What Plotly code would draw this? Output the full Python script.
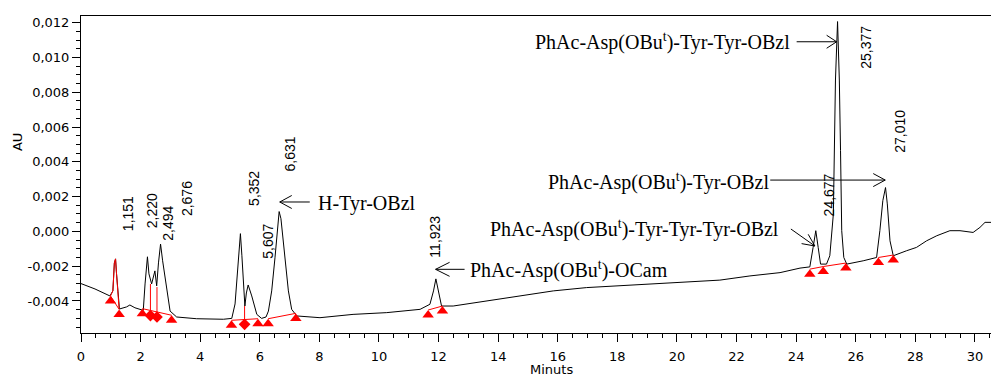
import plotly.graph_objects as go

# ---------------- data ----------------
# chromatogram trace: retention time (min) and absorbance (AU)
time_min = [0.00, 0.47, 0.97, 1.07, 1.12, 1.16, 1.19, 1.24, 1.29, 1.53,
            1.64, 1.81, 2.09, 2.15, 2.23, 2.28, 2.37, 2.48, 2.54, 2.60,
            2.67, 2.74, 2.85, 2.99, 3.21, 3.88, 4.78, 5.06, 5.17, 5.27,
            5.35, 5.40, 5.45, 5.50, 5.55, 5.61, 5.73, 5.90, 6.06, 6.21,
            6.29, 6.40, 6.51, 6.59, 6.65, 6.71, 6.85, 6.96, 7.07, 7.24,
            8.02, 9.13, 10.26, 11.38, 11.71, 11.83, 11.91, 11.99, 12.10, 12.49,
            13.61, 14.73, 15.85, 16.97, 18.09, 19.21, 20.33, 21.44, 22.45, 23.46,
            24.13, 24.46, 24.57, 24.66, 24.74, 24.82, 25.02, 25.13, 25.25, 25.29,
            25.32, 25.39, 25.45, 25.49, 25.53, 25.60, 25.70, 26.25, 26.70, 26.81,
            26.91, 27.00, 27.06, 27.15, 27.26, 27.71, 28.04, 28.38, 28.72, 29.16,
            29.50, 29.94, 30.17, 30.34, 30.54]
absorbance = [-0.00300, -0.00331, -0.00371, -0.00342, -0.00181, -0.00158, -0.00238, -0.00377, -0.00446, -0.00434,
              -0.00423, -0.00439, -0.00454, -0.00302, -0.00146, -0.00244, -0.00302, -0.00227, -0.00313, -0.00181,
              -0.00073, -0.00169, -0.00302, -0.00458, -0.00492, -0.00502, -0.00505, -0.00500, -0.00417, -0.00169,
              -0.00013, -0.00140, -0.00284, -0.00429, -0.00354, -0.00308, -0.00371, -0.00477, -0.00500, -0.00492,
              -0.00458, -0.00342, -0.00152, 0.00033, 0.00114, 0.00073, -0.00150, -0.00342, -0.00448, -0.00486,
              -0.00496, -0.00477, -0.00467, -0.00448, -0.00419, -0.00342, -0.00273, -0.00342, -0.00429, -0.00429,
              -0.00400, -0.00371, -0.00342, -0.00323, -0.00313, -0.00300, -0.00289, -0.00280, -0.00256, -0.00237,
              -0.00211, -0.00204, -0.00092, 0.00004, -0.00092, -0.00188, -0.00188, -0.00140, 0.00100, 0.00523,
              0.00870, 0.01206, 0.00870, 0.00466, 0.00004, -0.00150, -0.00188, -0.00169, -0.00150, 0.00004,
              0.00177, 0.00252, 0.00158, -0.00054, -0.00140, -0.00111, -0.00092, -0.00054, -0.00025, 0.00004,
              0.00004, -0.00006, 0.00023, 0.00052, 0.00052]

# integration events (baseline start/end points)
event_time = [0.99, 1.28, 2.06, 2.33, 2.55, 3.04, 5.05, 5.49, 5.94,
              6.28, 7.21, 11.65, 12.13, 24.46, 24.91, 25.67, 26.76, 27.26]
event_base = [-0.00371, -0.00448, -0.00444, -0.00455, -0.00463, -0.00482, -0.00511, -0.00505, -0.00502,
              -0.00502, -0.00471, -0.00452, -0.00429, -0.00217, -0.00202, -0.00182, -0.00150, -0.00136]
event_kind = ["t", "t", "t", "d", "d", "t", "t", "d", "t",
              "t", "t", "t", "t", "t", "t", "t", "t", "t"]
event_group = [0, 0, 1, 1, 1, 1, 2, 2, 2, 3, 3, 4, 4, 5, 5, 5, 6, 6]
# drop-line tops at the valley events (diamonds)
drop_top = {3: -0.00302, 4: -0.00320, 7: -0.00429}

# peak retention-time labels
peak_labels = ["1,151", "2,220", "2,494", "2,676", "5,352", "5,607",
               "6,631", "11,923", "24,677", "25,377", "27,010"]

# compound labels
compound_labels = ["H-Tyr-OBzl",
                   "PhAc-Asp(OBu<sup>t</sup>)-OCam",
                   "PhAc-Asp(OBu<sup>t</sup>)-Tyr-Tyr-Tyr-OBzl",
                   "PhAc-Asp(OBu<sup>t</sup>)-Tyr-OBzl",
                   "PhAc-Asp(OBu<sup>t</sup>)-Tyr-Tyr-OBzl"]

# axis ticks
x_ticks = list(range(0, 31, 2))
y_tick_vals = [-0.004, -0.002, 0.0, 0.002, 0.004, 0.006, 0.008, 0.010, 0.012]
y_tick_text = ["-0,004", "-0,002", "0,000", "0,002", "0,004", "0,006", "0,008", "0,010", "0,012"]

# ---------------- positions / styles ----------------
peak_label_pos = [(1.60, 0.00103), (2.39, 0.00117), (2.89, 0.00045), (3.56, 0.00186),
                  (5.80, 0.00249), (6.27, -0.00055), (7.00, 0.00445), (11.87, -0.00032),
                  (25.10, 0.00212), (26.34, 0.01060), (27.48, 0.00577)]
compound_text_pos = [(7.88, 0.00163), (12.98, -0.00218), (13.65, 0.00014),
                     (15.60, 0.00284), (15.16, 0.01094)]
arrow_tips = [(6.67, 0.00169), (11.90, -0.00218), (24.63, -0.00084),
              (26.99, 0.00295), (25.36, 0.01090)]
arrow_paths = ["M 30,0 L 0,0 M 12,6.5 L 0,0 L 12,-6.5",
               "M 29,0 L 0,0 M 14,7 L 0,0 L 14,-7",
               "M -24,17 L 0,0 M -6.7,11.7 L 0,0 L -13.3,2.4",
               "M -115,0 L 0,0 M -12,6.5 L 0,0 L -12,-6.5",
               "M -40,0 L 0,0 M -10,6.5 L 0,0 L -10,-6.5"]
MARKER_DROP = 0.00029  # triangles sit just under the baseline line

fig = go.Figure()

# main trace
fig.add_trace(go.Scatter(x=time_min, y=absorbance, mode="lines",
                         line=dict(color="black", width=1), showlegend=False,
                         hoverinfo="skip"))

# red overlay on first integrated peak
first_x = [t for t in time_min if event_time[0] <= t <= event_time[1]]
first_y = [a for t, a in zip(time_min, absorbance) if event_time[0] <= t <= event_time[1]]
fig.add_trace(go.Scatter(x=[event_time[0]] + first_x + [event_time[1]],
                         y=[event_base[0]] + first_y[:-1] + [first_y[-1], event_base[1]],
                         mode="lines", line=dict(color="red", width=1),
                         showlegend=False, hoverinfo="skip"))

# red baseline segments
bx, by = [], []
prev = None
for t, b, g in zip(event_time, event_base, event_group):
    if prev is not None and g != prev:
        bx.append(None)
        by.append(None)
    bx.append(t)
    by.append(b)
    prev = g
for i, top in drop_top.items():
    bx += [None, event_time[i], event_time[i]]
    by += [None, event_base[i], top]
fig.add_trace(go.Scatter(x=bx, y=by, mode="lines", line=dict(color="red", width=1),
                         showlegend=False, hoverinfo="skip"))

# event markers
for kind, sym, size in (("t", "triangle-up", 10), ("d", "diamond", 9)):
    xs = [t for t, k in zip(event_time, event_kind) if k == kind]
    ys = [b - MARKER_DROP for b, k in zip(event_base, event_kind) if k == kind]
    fig.add_trace(go.Scatter(x=xs, y=ys, mode="markers",
                             marker=dict(symbol=sym, size=size, color="red", line=dict(width=0)),
                             showlegend=False, hoverinfo="skip"))

annotations = []
for txt, (px, py) in zip(peak_labels, peak_label_pos):
    annotations.append(dict(x=px, y=py, xref="x", yref="y", text=txt, showarrow=False,
                            textangle=-90, xanchor="center", yanchor="middle",
                            font=dict(family="Liberation Sans, Arial", size=14, color="black")))
for txt, (px, py) in zip(compound_labels, compound_text_pos):
    annotations.append(dict(x=px, y=py, xref="x", yref="y", text=txt, showarrow=False,
                            xanchor="left", yanchor="middle",
                            font=dict(family="Liberation Serif, Times New Roman", size=20, color="black")))
# axis titles
annotations.append(dict(x=-0.0703, y=0.6025, xref="paper", yref="paper", text="AU",
                        showarrow=False, textangle=-90, xanchor="center", yanchor="middle",
                        font=dict(family="DejaVu Sans", size=13, color="black")))
annotations.append(dict(x=0.5165, y=-0.1136, xref="paper", yref="paper", text="Minuts",
                        showarrow=False, xanchor="center", yanchor="middle",
                        font=dict(family="DejaVu Sans", size=13, color="black")))

shapes = []
for (tx, ty), p in zip(arrow_tips, arrow_paths):
    shapes.append(dict(type="path", xref="x", yref="y", xsizemode="pixel", ysizemode="pixel",
                       xanchor=tx, yanchor=ty, path=p, line=dict(color="black", width=1)))

fig.update_layout(
    width=991, height=376,
    margin=dict(l=81, r=0, t=16, b=43),
    paper_bgcolor="white", plot_bgcolor="white",
    annotations=annotations, shapes=shapes,
    xaxis=dict(range=[0, 30.54], tickmode="array", tickvals=x_ticks,
               ticks="outside", ticklen=8, tickwidth=1, tickcolor="black",
               showline=True, linecolor="black", linewidth=1, mirror=True,
               showgrid=False, zeroline=False, ticklabelstandoff=3,
               minor=dict(dtick=0.5, tick0=0, ticks="outside", ticklen=4, tickcolor="black", showgrid=False),
               tickfont=dict(family="DejaVu Sans", size=13, color="black")),
    yaxis=dict(range=[-0.00584, 0.01238], tickmode="array", tickvals=y_tick_vals, ticktext=y_tick_text,
               ticks="outside", ticklen=8, tickwidth=1, tickcolor="black",
               showline=True, linecolor="black", linewidth=1, mirror=False,
               showgrid=False, zeroline=False,
               minor=dict(dtick=0.0005, tick0=0, ticks="outside", ticklen=4, tickcolor="black", showgrid=False),
               tickfont=dict(family="DejaVu Sans", size=13, color="black")),
)

fig.write_html("out.html")
